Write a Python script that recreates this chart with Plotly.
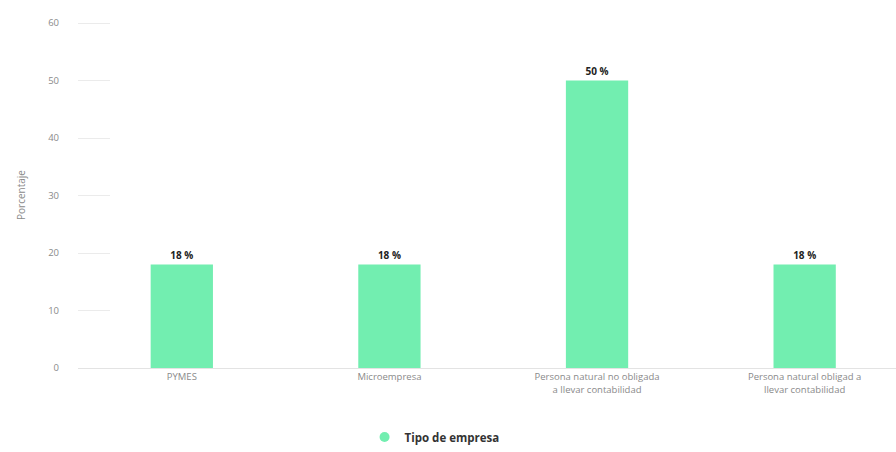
import plotly.graph_objects as go

categorias = [
    "PYMES",
    "Microempresa",
    "Persona natural no obligada<br>a llevar contabilidad",
    "Persona natural obligad a<br>llevar contabilidad",
]
porcentajes = [18, 18, 50, 18]
ticks_y = [0, 10, 20, 30, 40, 50, 60]

verde = "#72EEB0"
gris_texto = "#8a8a8a"

fig = go.Figure()

fig.add_trace(go.Bar(
    x=categorias,
    y=porcentajes,
    width=0.3,
    marker=dict(color=verde, line=dict(width=0)),
    text=[f"{v} %" for v in porcentajes],
    textposition="outside",
    textfont=dict(family="Open Sans", size=10, color="#222222", weight="bold"),
    cliponaxis=False,
    showlegend=False,
    hoverinfo="x+y",
))

# Legend entry drawn with a round marker
fig.add_trace(go.Scatter(
    x=[None], y=[None],
    mode="markers",
    marker=dict(color=verde, size=10, symbol="circle"),
    name="Tipo de empresa",
    showlegend=True,
))

fig.update_layout(
    width=896,
    height=452,
    margin=dict(l=78, r=0, t=22, b=84),
    paper_bgcolor="white",
    plot_bgcolor="white",
    font=dict(family="Open Sans", color=gris_texto, size=10),
    showlegend=True,
    legend=dict(
        orientation="h",
        xref="container",
        x=0.485,
        xanchor="center",
        yref="container",
        y=0.033,
        yanchor="middle",
        font=dict(family="Open Sans", size=11.5, color="#333333", weight="bold"),
        itemwidth=30,
    ),
    xaxis=dict(
        type="category",
        range=[-0.5, 3.44],
        showgrid=False,
        showline=True,
        linecolor="#e3e3e3",
        linewidth=1,
        ticks="",
        tickfont=dict(size=9.5, color=gris_texto),
    ),
    yaxis=dict(
        range=[0, 60.2],
        tickvals=ticks_y,
        showgrid=False,
        zeroline=False,
        showline=False,
        ticks="inside",
        ticklen=32,
        tickcolor="#ebebeb",
        tickwidth=1,
        ticklabelstandoff=18,
        tickfont=dict(size=9.5, color=gris_texto),
        title=dict(text="Porcentaje", font=dict(size=10, color=gris_texto), standoff=20),
    ),
)

fig.write_html("out.html")
